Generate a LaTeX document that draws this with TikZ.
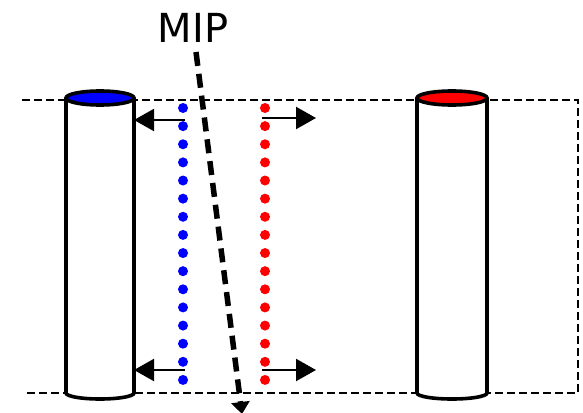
\documentclass[tikz,border=0pt]{standalone}
\usepackage{fontspec}
\setmainfont{DejaVu Sans}
\usetikzlibrary{arrows.meta}
\tikzset{
  frame/.style={dash pattern=on 8pt off 4pt, line width=1.5pt},
  pipe/.style={line width=3.6pt, fill=white},
  flux/.style={line width=2.2pt, -{Triangle[length=20pt,width=22pt]}},
  mip/.style={line width=5.5pt, dash pattern=on 14pt off 8pt, -{Triangle[length=12pt,width=18pt]}},
}
\newcommand{\cylinderat}[5]{% cx, rx, ytop, ybottom, colour
  \draw[pipe] (#1-#2,#3) -- (#1-#2,#4) arc[start angle=180,end angle=0,x radius=#2,y radius=6]
    -- (#1+#2,#3);
  \draw[line width=3.6pt, fill=#5] (#1,#3) ellipse[x radius=#2, y radius=7];
}
\begin{document}
\begin{tikzpicture}[x=1pt,y=-1pt]
\useasboundingbox (0,0) rectangle (583,412);
% dashed boundary
\draw[frame] (22,100) -- (578,100) -- (578,393) -- (25,393);
% cylinders
\cylinderat{100}{34}{98}{393}{blue}
\cylinderat{452}{35}{98}{393}{red}
\coordinate (lwall) at (134,120);
\coordinate (lwallb) at (134,370);
% dotted columns
\foreach \i in {0,...,15} {
  \fill[blue] (183,108+18.13*\i) circle[radius=5];
  \fill[red] (265,108+18.13*\i) circle[radius=5];
}
\coordinate (bt) at (185,120);
\coordinate (bb) at (185,370);
\coordinate (rt) at (262,118);
\coordinate (rb) at (262,370);
\coordinate (rte) at (316,118);
\coordinate (rbe) at (316,370);
\draw[flux] (bt) -- (lwall);
\draw[flux] (bb) -- (lwallb);
\draw[flux] (rt) -- (rte);
\draw[flux] (rb) -- (rbe);
% MIP label and its path
\node[font=\fontsize{40}{44}\selectfont, inner sep=0pt] (mip) at (193,28) {MIP};
\coordinate (ms) at (196,52);
\coordinate (me) at (242,414);
\draw[mip] (ms) -- (me);
\end{tikzpicture}
\end{document}
